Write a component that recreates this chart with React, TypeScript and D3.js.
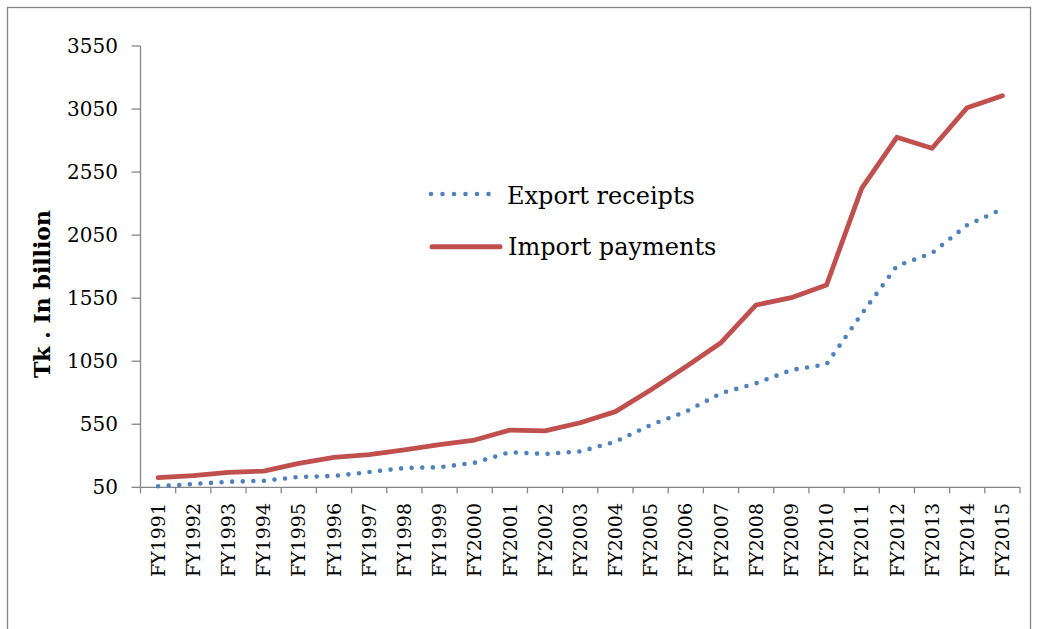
import React from "react";
import * as d3 from "d3";

const categories = [
  "FY1991", "FY1992", "FY1993", "FY1994", "FY1995", "FY1996", "FY1997", "FY1998", "FY1999", "FY2000",
  "FY2001", "FY2002", "FY2003", "FY2004", "FY2005", "FY2006", "FY2007", "FY2008", "FY2009", "FY2010",
  "FY2011", "FY2012", "FY2013", "FY2014", "FY2015",
];
const exportReceipts = [
  58, 76, 94, 102, 132, 140, 171, 203, 209, 245,
  328, 314, 334, 412, 544, 650, 796, 875, 980, 1026,
  1425, 1805, 1908, 2130, 2257,
];
const importPayments = [
  126, 142, 169, 179, 240, 288, 309, 346, 388, 425,
  504, 497, 562, 650, 822, 1006, 1197, 1496, 1554, 1654,
  2421, 2826, 2739, 3061, 3156,
];
const yTicks = [50, 550, 1050, 1550, 2050, 2550, 3050, 3550];
const seriesNames = ["Export receipts", "Import payments"];

const W = 1037;
const H = 629;
const FONT = "'DejaVu Serif', serif";
const AXIS = "#868686";
const BLUE = "#4F81BD";
const RED = "#C0504D";

export default function App() {
  const x = d3.scaleBand<string>().domain(categories).range([140.5, 1020]).padding(0);
  const y = d3.scaleLinear().domain([50, 3550]).range([487.3, 46]);
  const cx = (c: string) => (x(c) as number) + x.bandwidth() / 2;

  const line = d3
    .line<number>()
    .x((_, i) => cx(categories[i]))
    .y((d) => y(d));

  const boundaries = categories.map((c) => x(c) as number).concat([x.range()[1]]);

  return (
    <svg
      width={W}
      height={H}
      style={{ position: "absolute", left: 0, top: 0, background: "#fff" }}
      fontFamily={FONT}
    >
      <rect x={7.5} y={7.5} width={1023} height={640} fill="#fff" stroke={AXIS} strokeWidth={1.3} />

      {/* Y axis */}
      <line x1={140.5} x2={140.5} y1={y(3550)} y2={y(50)} stroke={AXIS} strokeWidth={1.3} />
      {yTicks.map((t) => (
        <g key={t}>
          <line x1={131.5} x2={140.5} y1={y(t)} y2={y(t)} stroke={AXIS} strokeWidth={1.3} />
          <text x={118} y={y(t)} dy="0.35em" textAnchor="end" fontSize={20} fill="#000">
            {t}
          </text>
        </g>
      ))}

      {/* X axis */}
      <line x1={140.5} x2={1020} y1={y(50)} y2={y(50)} stroke={AXIS} strokeWidth={1.3} />
      {boundaries.map((b, i) => (
        <line key={i} x1={b} x2={b} y1={y(50)} y2={y(50) + 6} stroke={AXIS} strokeWidth={1.3} />
      ))}
      {categories.map((c) => (
        <text
          key={c}
          transform={`translate(${cx(c)},503) rotate(-90)`}
          dy="0.35em"
          textAnchor="end"
          fontSize={19}
          fill="#000"
        >
          {c}
        </text>
      ))}

      {/* Y title */}
      <text
        transform={`translate(42,294) rotate(-90)`}
        dy="0.35em"
        textAnchor="middle"
        fontSize={22}
        fontWeight="bold"
        fill="#000"
      >
        Tk . In billion
      </text>

      {/* Series */}
      <path
        d={line(importPayments) || ""}
        fill="none"
        stroke={RED}
        strokeWidth={4.8}
        strokeLinejoin="round"
        strokeLinecap="round"
      />
      <path
        d={line(exportReceipts) || ""}
        fill="none"
        stroke={BLUE}
        strokeWidth={4.6}
        strokeLinecap="round"
        strokeDasharray="0 10.6"
      />

      {/* Legend */}
      <line x1={431} x2={491} y1={194} y2={194} stroke={BLUE} strokeWidth={4.6} strokeLinecap="round" strokeDasharray="0 11.5" />
      <text x={507} y={203.5} fontSize={24} fill="#000">
        {seriesNames[0]}
      </text>
      <line x1={432} x2={500} y1={246.7} y2={246.7} stroke={RED} strokeWidth={5} strokeLinecap="round" />
      <text x={508} y={254.5} fontSize={24} fill="#000">
        {seriesNames[1]}
      </text>
    </svg>
  );
}
